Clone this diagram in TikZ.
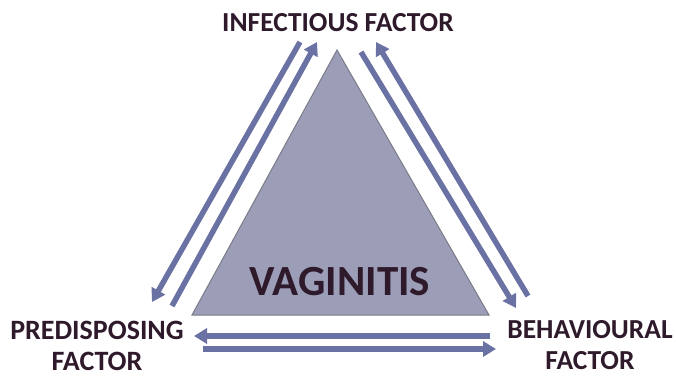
\documentclass[tikz,border=0pt]{standalone}
\usepackage{fontspec}
\setmainfont{Carlito}
\usetikzlibrary{arrows.meta}
\definecolor{arrowc}{HTML}{6A72A4}
\definecolor{trifill}{HTML}{9C9EB8}
\definecolor{triedge}{HTML}{7A7A88}
\definecolor{txtc}{HTML}{2E1A2A}
\tikzset{
  lbl/.style={font=\bfseries\fontsize{28}{30}\selectfont, text=txtc, align=center, inner sep=0pt},
  conn/.style={draw=arrowc, line width=5.5pt, -{Triangle[length=13pt,width=15pt]}},
}
\begin{document}
\begin{tikzpicture}[x=1pt,y=-1pt]
\useasboundingbox (0,0) rectangle (676,379);
% triangle
\draw[fill=trifill, draw=triedge, line width=1pt] (337,50) -- (192,315) -- (489,315) -- cycle;
\node[font=\bfseries\fontsize{43}{48}\selectfont, text=txtc, inner sep=0pt] (vag) at (340,282) {VAGINITIS};
% labels
\node[lbl, font=\bfseries\fontsize{27.5}{30}\selectfont] (inf) at (338,23) {INFECTIOUS FACTOR};
\node[lbl] (pre) at (97,346) {PREDISPOSING\\[1pt]FACTOR};
\node[lbl, font=\bfseries\fontsize{27.5}{30}\selectfont] (beh) at (590,345) {BEHAVIOURAL\\[1pt]FACTOR};
% arrow endpoints
\coordinate (l1s) at (300,42);  \coordinate (l1e) at (152,302);
\coordinate (l2s) at (172,306); \coordinate (l2e) at (317,42);
\coordinate (r1s) at (361,52);  \coordinate (r1e) at (516,308);
\coordinate (r2s) at (528,296); \coordinate (r2e) at (376,42);
\coordinate (b1s) at (490,336); \coordinate (b1e) at (194,336);
\coordinate (b2s) at (203,349); \coordinate (b2e) at (496,349);
\draw[conn] (l1s) -- (l1e);
\draw[conn] (l2s) -- (l2e);
\draw[conn] (r1s) -- (r1e);
\draw[conn] (r2s) -- (r2e);
\draw[conn] (b1s) -- (b1e);
\draw[conn] (b2s) -- (b2e);
\end{tikzpicture}
\end{document}
